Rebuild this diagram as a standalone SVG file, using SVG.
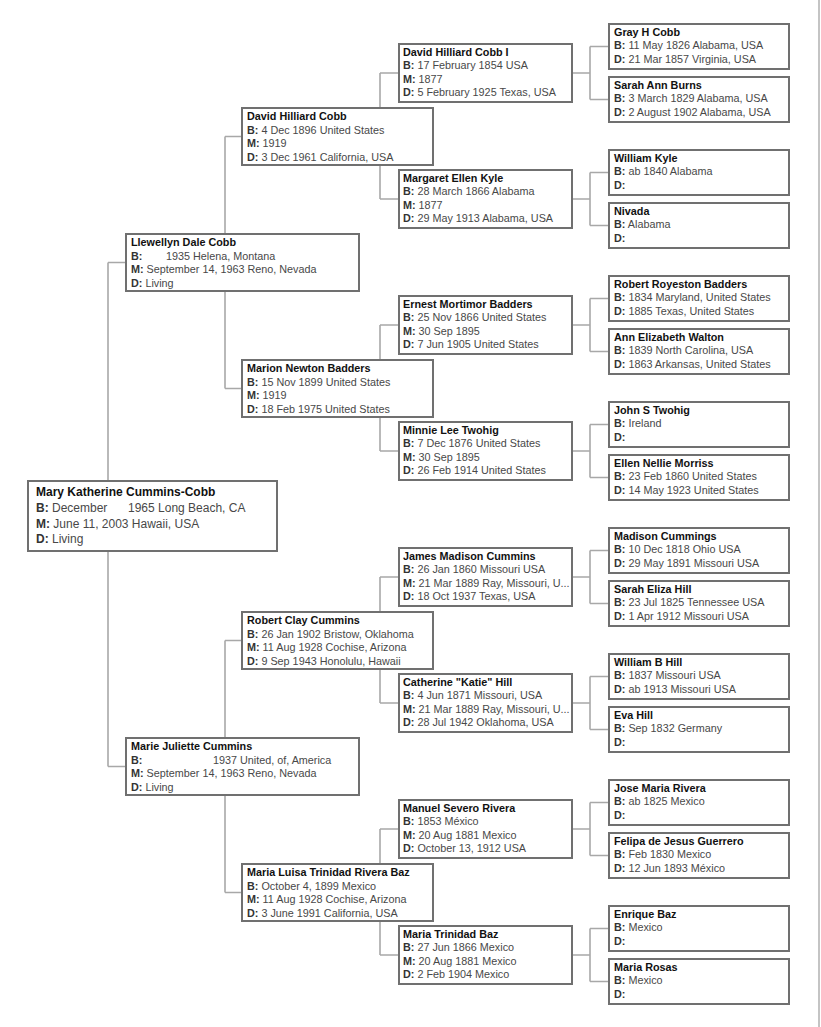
<svg xmlns="http://www.w3.org/2000/svg" width="821" height="1027" viewBox="0 0 821 1027">
<style>
.bx{fill:#fff;stroke:#707070;stroke-width:2}
.cn{fill:none;stroke:#a8a8a8;stroke-width:1.6}
text{font-family:"Liberation Sans",Arial,sans-serif;font-size:10.8px;fill:#484848}
.n{font-weight:bold;fill:#111}
.k{font-weight:bold;fill:#333}
.r text{font-size:12px}
</style>
<rect width="821" height="1027" fill="#fff"/>
<line x1="819" y1="0" x2="819" y2="1027" stroke="#c4c4c4" stroke-width="2"/>
<g id="connectors" class="cn">
<path d="M108 262.5V766.5M108 262.5H126M108 766.5H126"/>
<path d="M225 136.5V388.5M225 136.5H242M225 388.5H242"/>
<path d="M225 640.5V892.5M225 640.5H242M225 892.5H242"/>
<path d="M380 73V199M380 73H399M380 199H399"/>
<path d="M380 325V451M380 325H399M380 451H399"/>
<path d="M380 577V703M380 577H399M380 703H399"/>
<path d="M380 829V955M380 829H399M380 955H399"/>
<path d="M572 73H590M590 46.5V99.5M590 46.5H609M590 99.5H609"/>
<path d="M572 199H590M590 172.5V225.5M590 172.5H609M590 225.5H609"/>
<path d="M572 325H590M590 298.5V351.5M590 298.5H609M590 351.5H609"/>
<path d="M572 451H590M590 424.5V477.5M590 424.5H609M590 477.5H609"/>
<path d="M572 577H590M590 550.5V603.5M590 550.5H609M590 603.5H609"/>
<path d="M572 703H590M590 676.5V729.5M590 676.5H609M590 729.5H609"/>
<path d="M572 829H590M590 802.5V855.5M590 802.5H609M590 855.5H609"/>
<path d="M572 955H590M590 928.5V981.5M590 928.5H609M590 981.5H609"/>
</g>

<g id="root" class="r">
<rect class="bx" x="28" y="481" width="249" height="70"/>
<text class="n" x="36" y="496">Mary Katherine Cummins-Cobb</text>
<text x="36" y="512"><tspan class="k">B:</tspan> December<tspan x="128">1965 Long Beach, CA</tspan></text>
<text x="36" y="528"><tspan class="k">M:</tspan> June 11, 2003 Hawaii, USA</text>
<text x="36" y="543"><tspan class="k">D:</tspan> Living</text>
</g>

<g id="llewellyn">
<rect class="bx" x="126" y="234" width="233" height="57"/>
<text class="n" x="131" y="246">Llewellyn Dale Cobb</text>
<text x="131" y="259.5"><tspan class="k">B:</tspan><tspan x="166">1935 Helena, Montana</tspan></text>
<text x="131" y="273"><tspan class="k">M:</tspan> September 14, 1963 Reno, Nevada</text>
<text x="131" y="286.5"><tspan class="k">D:</tspan> Living</text>
</g>
<g id="marie">
<rect class="bx" x="126" y="738" width="233" height="57"/>
<text class="n" x="131" y="750">Marie Juliette Cummins</text>
<text x="131" y="763.5"><tspan class="k">B:</tspan><tspan x="213">1937 United, of, America</tspan></text>
<text x="131" y="777"><tspan class="k">M:</tspan> September 14, 1963 Reno, Nevada</text>
<text x="131" y="790.5"><tspan class="k">D:</tspan> Living</text>
</g>

<g id="david-hilliard-cobb">
<rect class="bx" x="242" y="108" width="191" height="57"/>
<text class="n" x="247" y="120">David Hilliard Cobb</text>
<text x="247" y="133.5"><tspan class="k">B:</tspan> 4 Dec 1896 United States</text>
<text x="247" y="147"><tspan class="k">M:</tspan> 1919</text>
<text x="247" y="160.5"><tspan class="k">D:</tspan> 3 Dec 1961 California, USA</text>
</g>
<g id="marion">
<rect class="bx" x="242" y="360" width="191" height="57"/>
<text class="n" x="247" y="372">Marion Newton Badders</text>
<text x="247" y="385.5"><tspan class="k">B:</tspan> 15 Nov 1899 United States</text>
<text x="247" y="399"><tspan class="k">M:</tspan> 1919</text>
<text x="247" y="412.5"><tspan class="k">D:</tspan> 18 Feb 1975 United States</text>
</g>
<g id="robert-clay">
<rect class="bx" x="242" y="612" width="191" height="57"/>
<text class="n" x="247" y="624">Robert Clay Cummins</text>
<text x="247" y="637.5"><tspan class="k">B:</tspan> 26 Jan 1902 Bristow, Oklahoma</text>
<text x="247" y="651"><tspan class="k">M:</tspan> 11 Aug 1928 Cochise, Arizona</text>
<text x="247" y="664.5"><tspan class="k">D:</tspan> 9 Sep 1943 Honolulu, Hawaii</text>
</g>
<g id="maria-luisa">
<rect class="bx" x="242" y="864" width="191" height="57"/>
<text class="n" x="247" y="876">Maria Luisa Trinidad Rivera Baz</text>
<text x="247" y="889.5"><tspan class="k">B:</tspan> October 4, 1899 Mexico</text>
<text x="247" y="903"><tspan class="k">M:</tspan> 11 Aug 1928 Cochise, Arizona</text>
<text x="247" y="916.5"><tspan class="k">D:</tspan> 3 June 1991 California, USA</text>
</g>

<g id="david-i">
<rect class="bx" x="399" y="44" width="173" height="58"/>
<text class="n" x="403" y="55.5">David Hilliard Cobb I</text>
<text x="403" y="69"><tspan class="k">B:</tspan> 17 February 1854 USA</text>
<text x="403" y="82.5"><tspan class="k">M:</tspan> 1877</text>
<text x="403" y="96"><tspan class="k">D:</tspan> 5 February 1925 Texas, USA</text>
</g>
<g id="margaret">
<rect class="bx" x="399" y="170" width="173" height="58"/>
<text class="n" x="403" y="181.5">Margaret Ellen Kyle</text>
<text x="403" y="195"><tspan class="k">B:</tspan> 28 March 1866 Alabama</text>
<text x="403" y="208.5"><tspan class="k">M:</tspan> 1877</text>
<text x="403" y="222"><tspan class="k">D:</tspan> 29 May 1913 Alabama, USA</text>
</g>
<g id="ernest">
<rect class="bx" x="399" y="296" width="173" height="58"/>
<text class="n" x="403" y="307.5">Ernest Mortimor Badders</text>
<text x="403" y="321"><tspan class="k">B:</tspan> 25 Nov 1866 United States</text>
<text x="403" y="334.5"><tspan class="k">M:</tspan> 30 Sep 1895</text>
<text x="403" y="348"><tspan class="k">D:</tspan> 7 Jun 1905 United States</text>
</g>
<g id="minnie">
<rect class="bx" x="399" y="422" width="173" height="58"/>
<text class="n" x="403" y="433.5">Minnie Lee Twohig</text>
<text x="403" y="447"><tspan class="k">B:</tspan> 7 Dec 1876 United States</text>
<text x="403" y="460.5"><tspan class="k">M:</tspan> 30 Sep 1895</text>
<text x="403" y="474"><tspan class="k">D:</tspan> 26 Feb 1914 United States</text>
</g>
<g id="james">
<rect class="bx" x="399" y="548" width="173" height="58"/>
<text class="n" x="403" y="559.5">James Madison Cummins</text>
<text x="403" y="573"><tspan class="k">B:</tspan> 26 Jan 1860 Missouri USA</text>
<text x="403" y="586.5"><tspan class="k">M:</tspan> 21 Mar 1889 Ray, Missouri, U...</text>
<text x="403" y="600"><tspan class="k">D:</tspan> 18 Oct 1937 Texas, USA</text>
</g>
<g id="catherine">
<rect class="bx" x="399" y="674" width="173" height="58"/>
<text class="n" x="403" y="685.5">Catherine "Katie" Hill</text>
<text x="403" y="699"><tspan class="k">B:</tspan> 4 Jun 1871 Missouri, USA</text>
<text x="403" y="712.5"><tspan class="k">M:</tspan> 21 Mar 1889 Ray, Missouri, U...</text>
<text x="403" y="726"><tspan class="k">D:</tspan> 28 Jul 1942 Oklahoma, USA</text>
</g>
<g id="manuel">
<rect class="bx" x="399" y="800" width="173" height="58"/>
<text class="n" x="403" y="811.5">Manuel Severo Rivera</text>
<text x="403" y="825"><tspan class="k">B:</tspan> 1853 México</text>
<text x="403" y="838.5"><tspan class="k">M:</tspan> 20 Aug 1881 Mexico</text>
<text x="403" y="852"><tspan class="k">D:</tspan> October 13, 1912 USA</text>
</g>
<g id="maria-trinidad">
<rect class="bx" x="399" y="926" width="173" height="58"/>
<text class="n" x="403" y="937.5">Maria Trinidad Baz</text>
<text x="403" y="951"><tspan class="k">B:</tspan> 27 Jun 1866 Mexico</text>
<text x="403" y="964.5"><tspan class="k">M:</tspan> 20 Aug 1881 Mexico</text>
<text x="403" y="978"><tspan class="k">D:</tspan> 2 Feb 1904 Mexico</text>
</g>

<g id="gray">
<rect class="bx" x="609" y="24" width="180" height="45"/>
<text class="n" x="614" y="35.5">Gray H Cobb</text>
<text x="614" y="49"><tspan class="k">B:</tspan> 11 May 1826 Alabama, USA</text>
<text x="614" y="62.5"><tspan class="k">D:</tspan> 21 Mar 1857 Virginia, USA</text>
</g>
<g id="sarah-ann">
<rect class="bx" x="609" y="77" width="180" height="45"/>
<text class="n" x="614" y="88.5">Sarah Ann Burns</text>
<text x="614" y="102"><tspan class="k">B:</tspan> 3 March 1829 Alabama, USA</text>
<text x="614" y="115.5"><tspan class="k">D:</tspan> 2 August 1902 Alabama, USA</text>
</g>
<g id="william-kyle">
<rect class="bx" x="609" y="150" width="180" height="45"/>
<text class="n" x="614" y="161.5">William Kyle</text>
<text x="614" y="175"><tspan class="k">B:</tspan> ab 1840 Alabama</text>
<text x="614" y="188.5"><tspan class="k">D:</tspan></text>
</g>
<g id="nivada">
<rect class="bx" x="609" y="203" width="180" height="45"/>
<text class="n" x="614" y="214.5">Nivada</text>
<text x="614" y="228"><tspan class="k">B:</tspan> Alabama</text>
<text x="614" y="241.5"><tspan class="k">D:</tspan></text>
</g>
<g id="robert-royeston">
<rect class="bx" x="609" y="276" width="180" height="45"/>
<text class="n" x="614" y="287.5">Robert Royeston Badders</text>
<text x="614" y="301"><tspan class="k">B:</tspan> 1834 Maryland, United States</text>
<text x="614" y="314.5"><tspan class="k">D:</tspan> 1885 Texas, United States</text>
</g>
<g id="ann-elizabeth">
<rect class="bx" x="609" y="329" width="180" height="45"/>
<text class="n" x="614" y="340.5">Ann Elizabeth Walton</text>
<text x="614" y="354"><tspan class="k">B:</tspan> 1839 North Carolina, USA</text>
<text x="614" y="367.5"><tspan class="k">D:</tspan> 1863 Arkansas, United States</text>
</g>
<g id="john-twohig">
<rect class="bx" x="609" y="402" width="180" height="45"/>
<text class="n" x="614" y="413.5">John S Twohig</text>
<text x="614" y="427"><tspan class="k">B:</tspan> Ireland</text>
<text x="614" y="440.5"><tspan class="k">D:</tspan></text>
</g>
<g id="ellen">
<rect class="bx" x="609" y="455" width="180" height="45"/>
<text class="n" x="614" y="466.5">Ellen Nellie Morriss</text>
<text x="614" y="480"><tspan class="k">B:</tspan> 23 Feb 1860 United States</text>
<text x="614" y="493.5"><tspan class="k">D:</tspan> 14 May 1923 United States</text>
</g>
<g id="madison">
<rect class="bx" x="609" y="528" width="180" height="45"/>
<text class="n" x="614" y="539.5">Madison Cummings</text>
<text x="614" y="553"><tspan class="k">B:</tspan> 10 Dec 1818 Ohio USA</text>
<text x="614" y="566.5"><tspan class="k">D:</tspan> 29 May 1891 Missouri USA</text>
</g>
<g id="sarah-eliza">
<rect class="bx" x="609" y="581" width="180" height="45"/>
<text class="n" x="614" y="592.5">Sarah Eliza Hill</text>
<text x="614" y="606"><tspan class="k">B:</tspan> 23 Jul 1825 Tennessee USA</text>
<text x="614" y="619.5"><tspan class="k">D:</tspan> 1 Apr 1912 Missouri USA</text>
</g>
<g id="william-hill">
<rect class="bx" x="609" y="654" width="180" height="45"/>
<text class="n" x="614" y="665.5">William B Hill</text>
<text x="614" y="679"><tspan class="k">B:</tspan> 1837 Missouri USA</text>
<text x="614" y="692.5"><tspan class="k">D:</tspan> ab 1913 Missouri USA</text>
</g>
<g id="eva">
<rect class="bx" x="609" y="707" width="180" height="45"/>
<text class="n" x="614" y="718.5">Eva Hill</text>
<text x="614" y="732"><tspan class="k">B:</tspan> Sep 1832 Germany</text>
<text x="614" y="745.5"><tspan class="k">D:</tspan></text>
</g>
<g id="jose">
<rect class="bx" x="609" y="780" width="180" height="45"/>
<text class="n" x="614" y="791.5">Jose Maria Rivera</text>
<text x="614" y="805"><tspan class="k">B:</tspan> ab 1825 Mexico</text>
<text x="614" y="818.5"><tspan class="k">D:</tspan></text>
</g>
<g id="felipa">
<rect class="bx" x="609" y="833" width="180" height="45"/>
<text class="n" x="614" y="844.5">Felipa de Jesus Guerrero</text>
<text x="614" y="858"><tspan class="k">B:</tspan> Feb 1830 Mexico</text>
<text x="614" y="871.5"><tspan class="k">D:</tspan> 12 Jun 1893 México</text>
</g>
<g id="enrique">
<rect class="bx" x="609" y="906" width="180" height="45"/>
<text class="n" x="614" y="917.5">Enrique Baz</text>
<text x="614" y="931"><tspan class="k">B:</tspan> Mexico</text>
<text x="614" y="944.5"><tspan class="k">D:</tspan></text>
</g>
<g id="maria-rosas">
<rect class="bx" x="609" y="959" width="180" height="45"/>
<text class="n" x="614" y="970.5">Maria Rosas</text>
<text x="614" y="984"><tspan class="k">B:</tspan> Mexico</text>
<text x="614" y="997.5"><tspan class="k">D:</tspan></text>
</g>
</svg>
